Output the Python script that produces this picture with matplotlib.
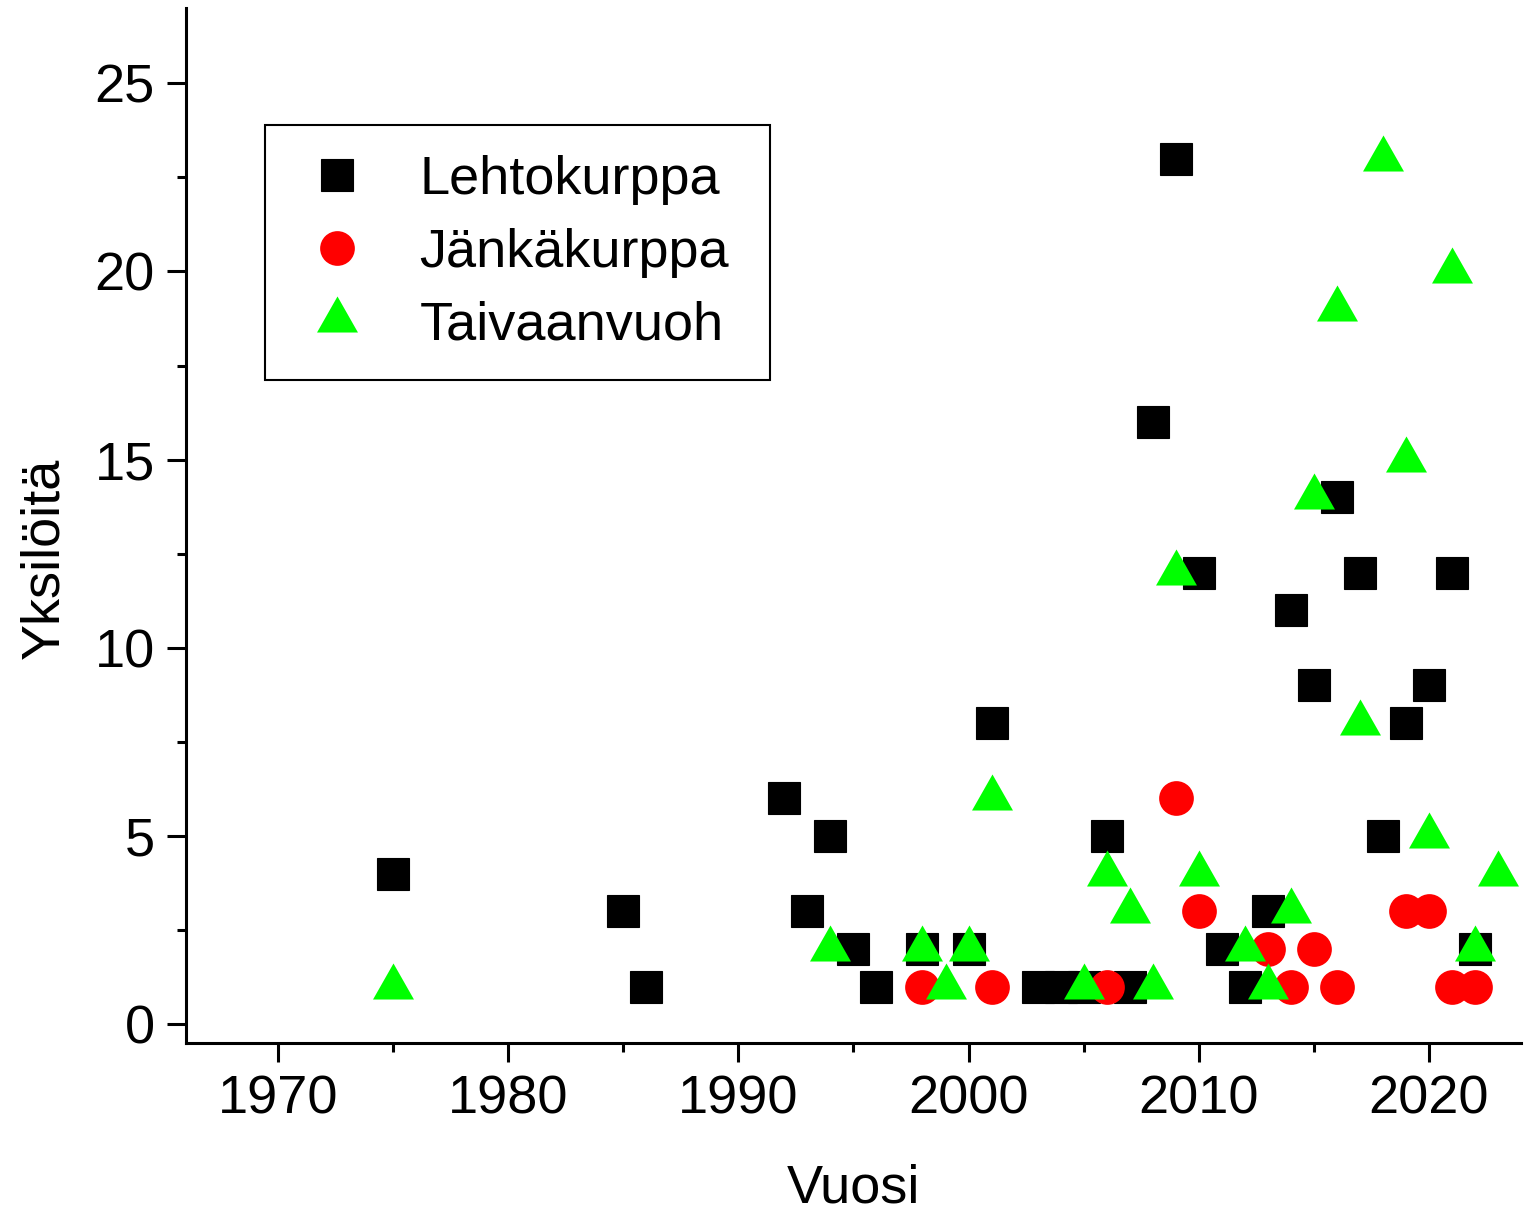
import matplotlib
matplotlib.use("Agg")
import matplotlib.pyplot as plt
from matplotlib.ticker import MultipleLocator

plt.rcParams['font.family'] = ['Liberation Sans', 'DejaVu Sans']

# Lehtokurppa (squares)
lehto_years = [1975, 1985, 1986, 1992, 1993, 1994, 1995, 1996, 1998, 2000, 2001,
               2003, 2004, 2005, 2006, 2007, 2008, 2009, 2010, 2011, 2012, 2013,
               2014, 2015, 2016, 2017, 2018, 2019, 2020, 2021, 2022]
lehto_vals = [4, 3, 1, 6, 3, 5, 2, 1, 2, 2, 8,
              1, 1, 1, 5, 1, 16, 23, 12, 2, 1, 3,
              11, 9, 14, 12, 5, 8, 9, 12, 2]

# Jänkäkurppa (circles)
janka_years = [1998, 2001, 2006, 2009, 2010, 2013, 2014, 2015, 2016, 2019, 2020, 2021, 2022]
janka_vals = [1, 1, 1, 6, 3, 2, 1, 2, 1, 3, 3, 1, 1]

# Taivaanvuoh (triangles)
taiv_years = [1975, 1994, 1998, 1999, 2000, 2001, 2005, 2006, 2007, 2008, 2009, 2010,
              2012, 2013, 2014, 2015, 2016, 2017, 2018, 2019, 2020, 2021, 2022, 2023]
taiv_vals = [1, 2, 2, 1, 2, 6, 1, 4, 3, 1, 12, 4,
             2, 1, 3, 14, 19, 8, 23, 15, 5, 20, 2, 4]

labels = ["Lehtokurppa", "Jänkäkurppa", "Taivaanvuoh"]

FS = 39

fig = plt.figure(figsize=(15.24, 12.18), dpi=100)
ax = fig.add_axes([0.122, 0.1437, 0.876, 0.8497])

tri = [(-1, -0.587), (1, -0.587), (0, 1.173)]

ax.plot(lehto_years, lehto_vals, linestyle='none', marker='s', markersize=23,
        color='black', markeredgewidth=0.8, label=labels[0])
ax.plot(janka_years, janka_vals, linestyle='none', marker='o', markersize=25,
        color='#FF0000', markeredgewidth=0, label=labels[1])
ax.plot(taiv_years, taiv_vals, linestyle='none', marker=tri, markersize=34.6,
        color='#00FF00', markeredgewidth=0, label=labels[2])

ax.set_xlim(1966, 2024)
ax.set_ylim(-0.5, 27)
ax.xaxis.set_major_locator(MultipleLocator(10))
ax.xaxis.set_minor_locator(MultipleLocator(5))
ax.yaxis.set_major_locator(MultipleLocator(5))
ax.yaxis.set_minor_locator(MultipleLocator(2.5))

for s in ['top', 'right']:
    ax.spines[s].set_visible(False)
for s in ['left', 'bottom']:
    ax.spines[s].set_linewidth(2.2)

ax.tick_params(which='major', direction='out', length=13.5, width=2.2,
               labelsize=FS, pad=9)
ax.tick_params(which='minor', direction='out', length=6.5, width=2.2)

ax.set_xlabel("Vuosi", fontsize=FS, labelpad=28)
ax.set_ylabel("Yksilöitä", fontsize=FS, labelpad=18, y=0.468)

leg = ax.legend(loc='upper left', bbox_to_anchor=(0.0592, 0.887, 0.378, 0.0),
                mode='expand', fontsize=FS,
                frameon=True, fancybox=False, edgecolor='black', framealpha=1,
                borderpad=0.55, handlelength=1.55, handletextpad=0.75,
                labelspacing=0.42, borderaxespad=0, numpoints=1)
leg.get_frame().set_linewidth(1.5)

fig.savefig("out.png", dpi=100)
